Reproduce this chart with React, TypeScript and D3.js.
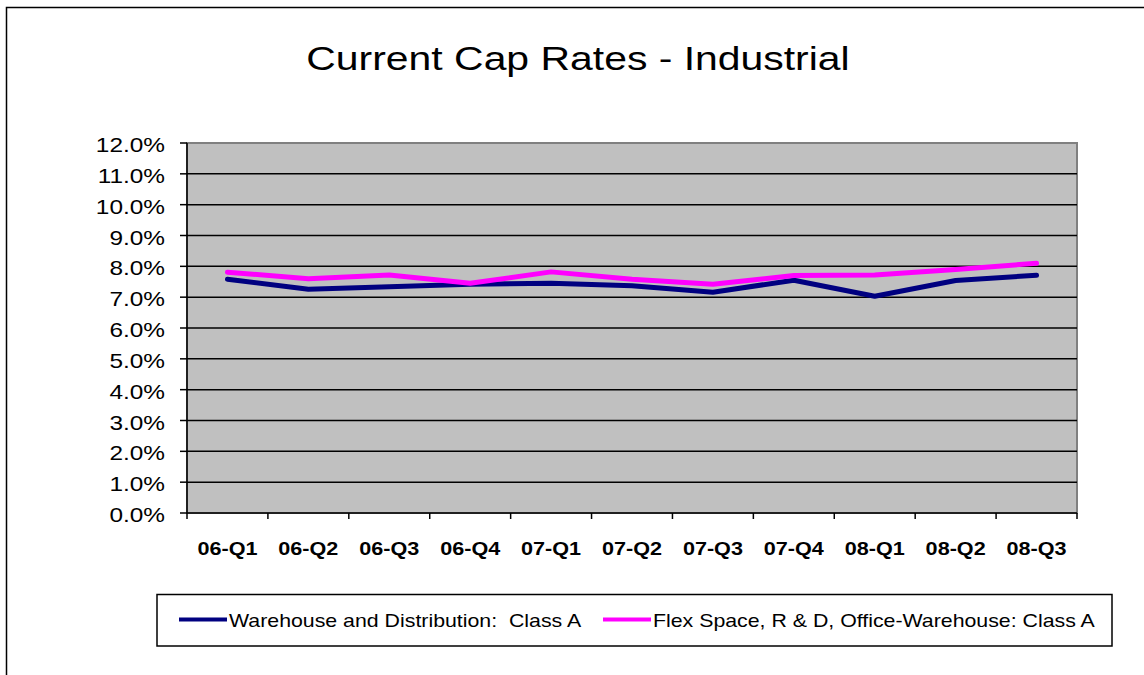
import React from 'react';
import * as d3 from 'd3';

const categories = ['06-Q1', '06-Q2', '06-Q3', '06-Q4', '07-Q1', '07-Q2', '07-Q3', '07-Q4', '08-Q1', '08-Q2', '08-Q3'];
const warehouse = [7.58, 7.26, 7.34, 7.42, 7.45, 7.37, 7.16, 7.55, 7.03, 7.54, 7.71];
const flex = [7.81, 7.60, 7.72, 7.45, 7.82, 7.58, 7.42, 7.70, 7.72, 7.90, 8.10];
const yTicks = [0, 1, 2, 3, 4, 5, 6, 7, 8, 9, 10, 11, 12];
const seriesNames = ['Warehouse and Distribution:  Class A', 'Flex Space, R & D, Office-Warehouse: Class A'];
const seriesColors = ['#000080', '#FF00FF'];
const title = 'Current Cap Rates - Industrial';

const W = 1144;
const H = 675;
const FONT = 'Liberation Sans, Arial, sans-serif';
const plot = { left: 187, right: 1077, top: 143, bottom: 513 };

function SText({ x, y, size, sx = 1, anchor = 'start', weight = 'normal', children }: any) {
  return (
    <g transform={`translate(${x},${y}) scale(${sx},1)`}>
      <text x={0} y={0} fontSize={size} fontFamily={FONT} fontWeight={weight} textAnchor={anchor} fill="#000" style={{ whiteSpace: 'pre' }}>
        {children}
      </text>
    </g>
  );
}

export default function App() {
  const x = d3.scaleBand<string>().domain(categories).range([plot.left, plot.right]).padding(0);
  const y = d3.scaleLinear().domain([0, 12]).range([plot.bottom, plot.top]);
  const cx = (c: string) => (x(c) as number) + x.bandwidth() / 2;
  const line = d3
    .line<number>()
    .x((_, i) => cx(categories[i]))
    .y((d) => y(d));
  const series = [warehouse, flex];
  const boundaries = categories.map((c) => x(c) as number).concat([plot.right]);

  return (
    <svg width={W} height={H} style={{ position: 'absolute', left: 0, top: 0, background: '#fff' }}>
      {/* outer frame */}
      <rect x={6.5} y={7.5} width={W + 10} height={H + 10} fill="#fff" stroke="#000" strokeWidth={1.5} />
      {/* title */}
      <SText x={578} y={70} size={33} sx={1.24} anchor="middle">{title}</SText>
      {/* plot area */}
      <rect x={plot.left} y={plot.top} width={plot.right - plot.left} height={plot.bottom - plot.top} fill="#C0C0C0" stroke="#808080" strokeWidth={2} />
      {/* gridlines */}
      {yTicks.filter((t) => t > 0 && t < 12).map((t) => (
        <line key={t} x1={plot.left} x2={plot.right} y1={y(t)} y2={y(t)} stroke="#000" strokeWidth={1.5} />
      ))}
      {/* y axis */}
      <line x1={plot.left} x2={plot.left} y1={plot.top} y2={plot.bottom} stroke="#000" strokeWidth={1.5} />
      {yTicks.map((t) => (
        <g key={t}>
          <line x1={plot.left - 7} x2={plot.left} y1={y(t)} y2={y(t)} stroke="#000" strokeWidth={1.5} />
          <SText x={165} y={y(t) + 9} size={20} sx={1.22} anchor="end">{d3.format('.1f')(t) + '%'}</SText>
        </g>
      ))}
      {/* x axis */}
      <line x1={plot.left} x2={plot.right} y1={plot.bottom} y2={plot.bottom} stroke="#000" strokeWidth={1.5} />
      {boundaries.map((b, i) => (
        <line key={i} x1={b} x2={b} y1={plot.bottom} y2={plot.bottom + 6} stroke="#000" strokeWidth={1.5} />
      ))}
      {categories.map((c) => (
        <SText key={c} x={cx(c)} y={555} size={18} sx={1.2} anchor="middle" weight="bold">{c}</SText>
      ))}
      {/* lines */}
      {series.map((s, i) => (
        <path key={i} d={line(s) as string} fill="none" stroke={seriesColors[i]} strokeWidth={5} strokeLinecap="round" strokeLinejoin="round" />
      ))}
      {/* legend */}
      <rect x={157} y={594.5} width={955} height={51.5} fill="#fff" stroke="#000" strokeWidth={1.5} />
      {[179, 603].map((lx, i) => (
        <g key={i}>
          <line x1={lx} x2={lx + 48} y1={619.5} y2={619.5} stroke={seriesColors[i]} strokeWidth={4} />
          <SText x={lx + 50} y={626.5} size={18} sx={1.185}>{seriesNames[i]}</SText>
        </g>
      ))}
    </svg>
  );
}
